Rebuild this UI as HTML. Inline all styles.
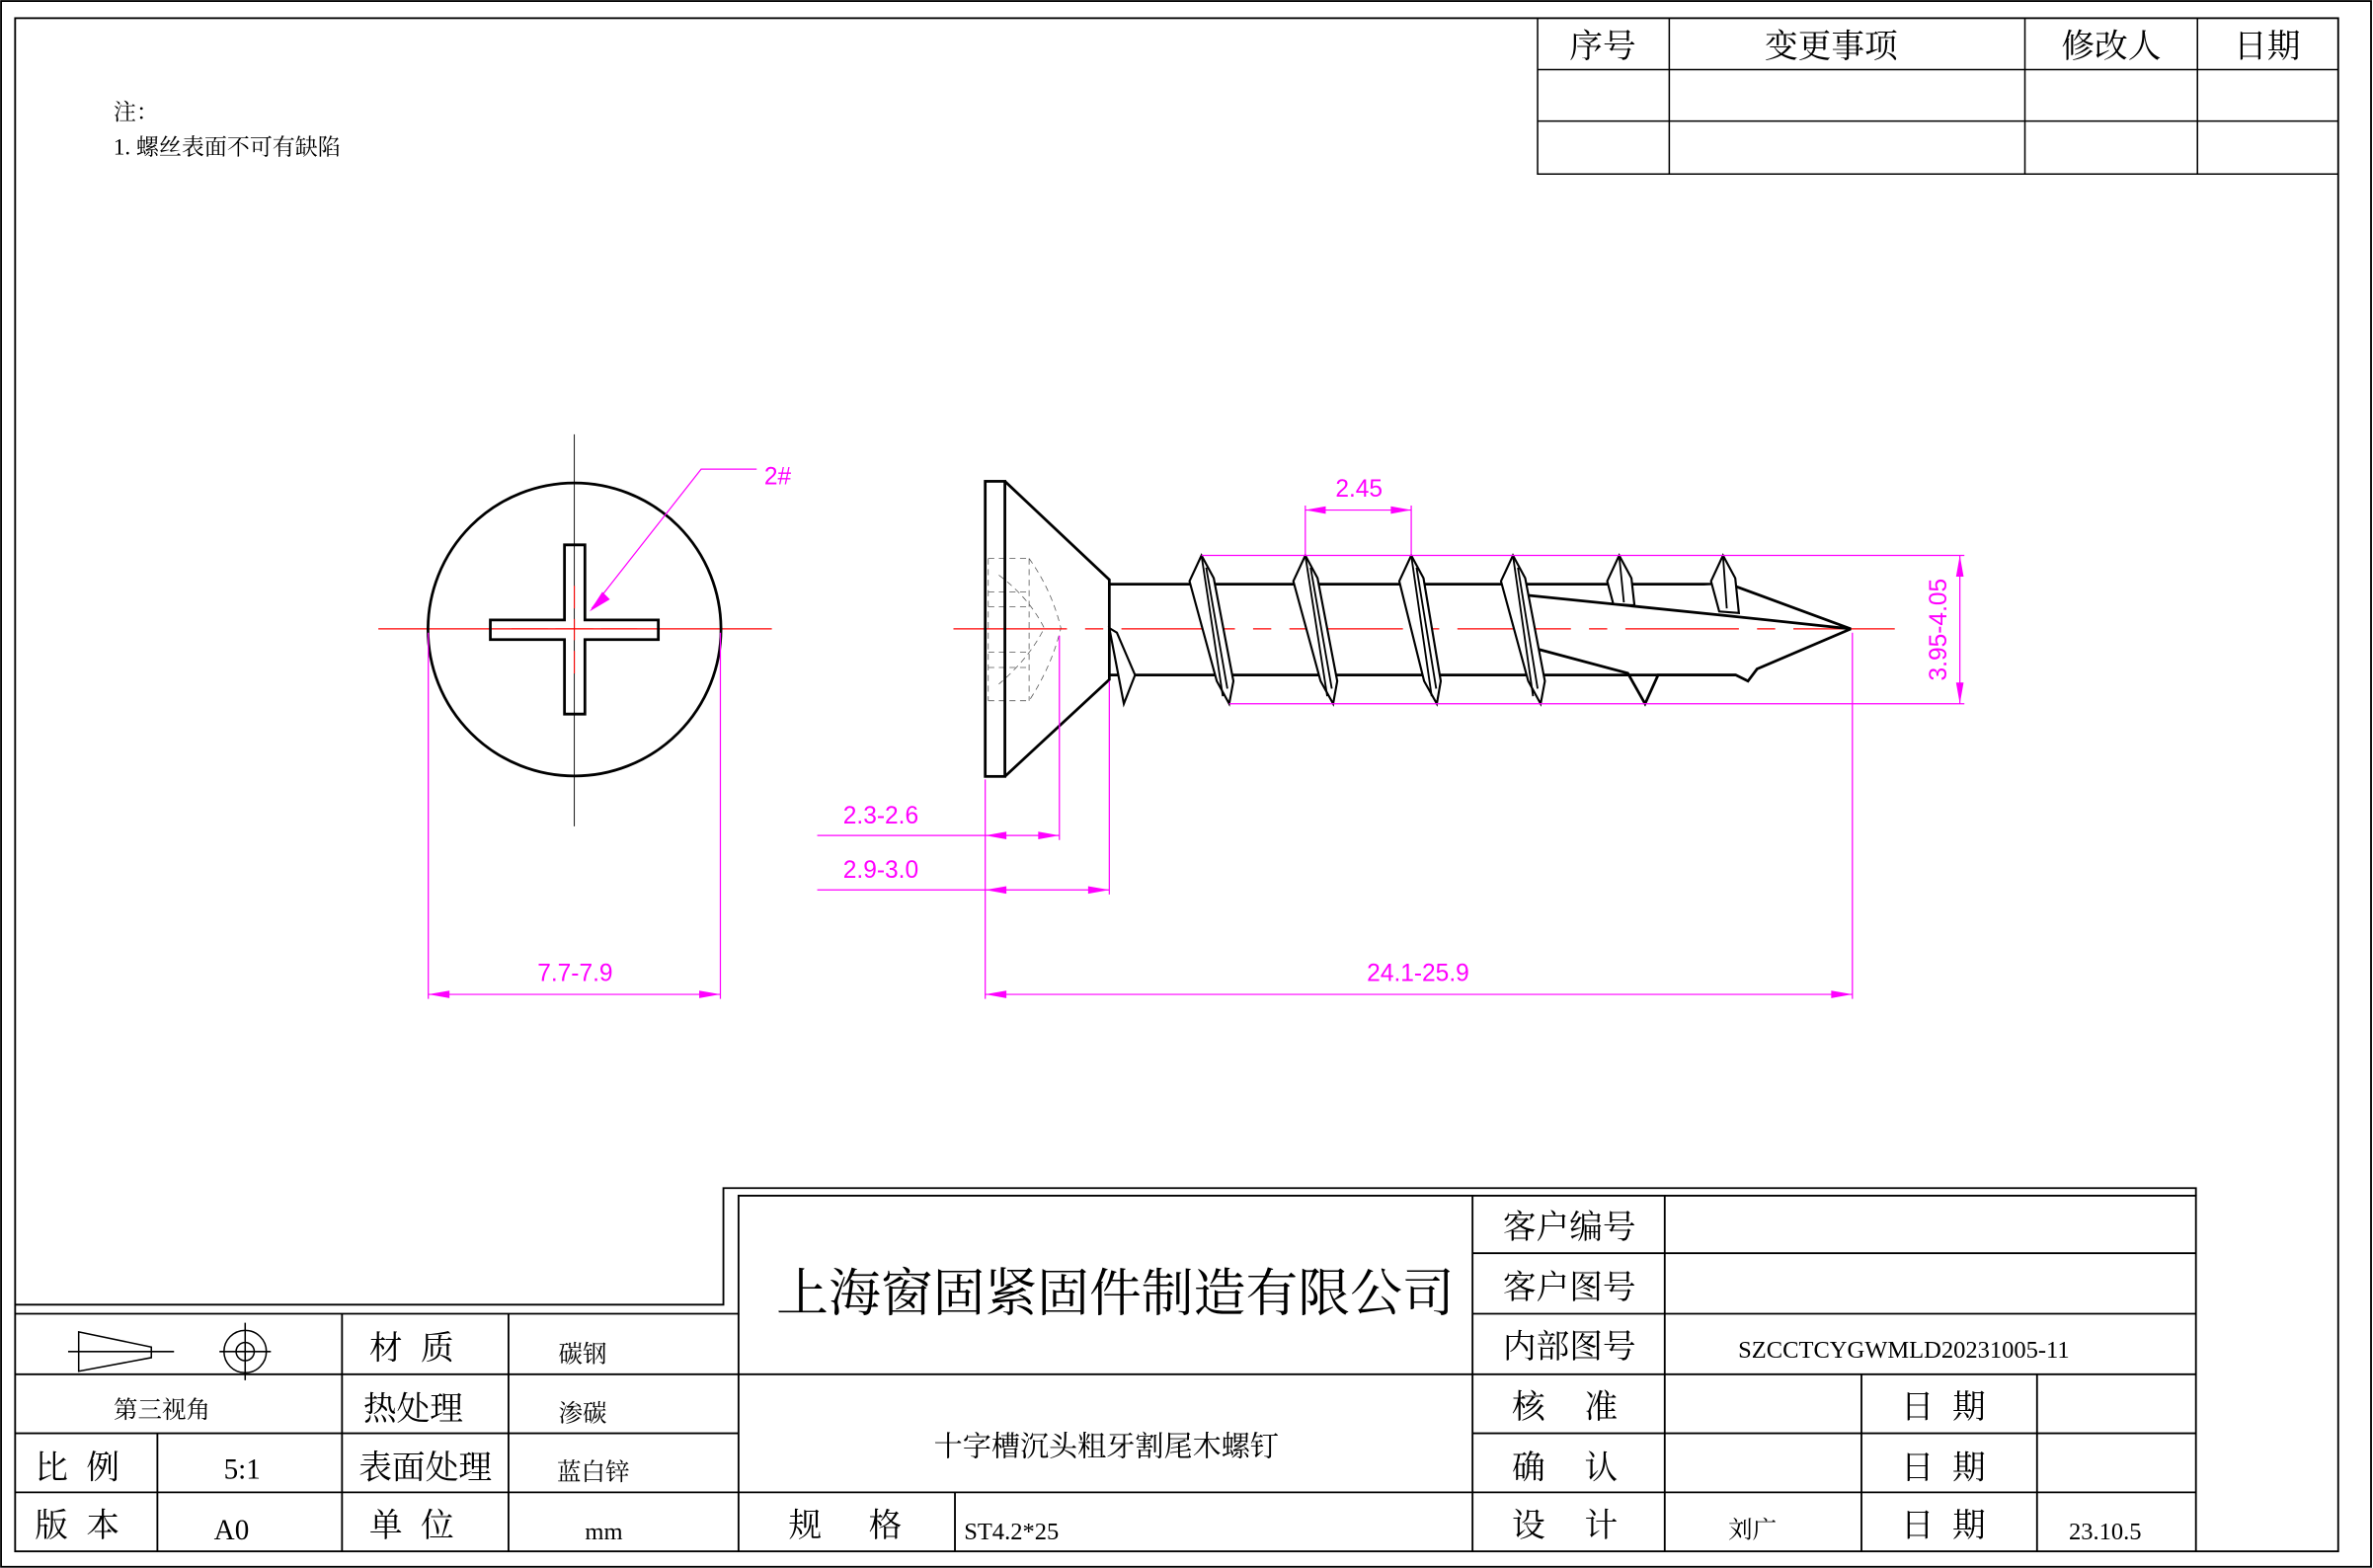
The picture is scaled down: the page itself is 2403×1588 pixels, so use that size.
<!DOCTYPE html>
<html><head><meta charset="utf-8">
<style>
html,body{margin:0;padding:0;background:#fff;}
svg{display:block;}
text{font-family:"Liberation Serif","Noto Serif CJK SC","Noto Sans CJK SC",serif;fill:#000;}
.m{font-family:"Liberation Sans",sans-serif;fill:#f0f;font-size:16px;}
</style></head>
<body>
<svg width="2403" height="1588" viewBox="0 0 1568 1036" preserveAspectRatio="none" xmlns="http://www.w3.org/2000/svg">
<rect x="0" y="0" width="1568" height="1036" fill="#fff"/>
<g fill="none" stroke="#000">
<rect x="0.7" y="0.7" width="1566" height="1034.5" stroke-width="1.2"/>
<rect x="10" y="12" width="1535" height="1013" stroke-width="1.2"/>
<g stroke-width="1">
<path d="M1016 12V115H1545M1016 46H1545M1016 80H1545M1103 12V115M1338 12V115M1452 12V115"/>
</g>
<g stroke-width="1.2">
<path d="M10 862H478V785H1451V790"/>
<path d="M10 868H488V790H1451V1025"/>
<path d="M10 908H488M10 947H488M973 947H1451M10 986H1451M488 908H1451M973 828H1451M973 868H1451"/>
<path d="M226 868V1025M336 868V1025M104 947V1025M488 868V1025M631 986V1025M973 790V1025M1100 790V1025M1230 908V1025M1346 908V1025"/>
</g>
<g stroke-width="1">
<path d="M52 880L100 890V897L52 906Z"/>
<path d="M45 893H115"/>
<circle cx="162" cy="893" r="14"/>
<circle cx="162" cy="893" r="6"/>
<path d="M145 893H179M162 874V912"/>
</g>
</g>

<g font-size="22" text-anchor="middle">
<text x="1059" y="38">序号</text>
<text x="1210" y="38">变更事项</text>
<text x="1395" y="38">修改人</text>
<text x="1498" y="38">日期</text>
</g>
<text x="75" y="79" font-size="15">注：</text>
<text x="75" y="102" font-size="15">1. 螺丝表面不可有缺陷</text>

<text x="737" y="866" font-size="34" text-anchor="middle" textLength="448" lengthAdjust="spacingAndGlyphs">上海窗固紧固件制造有限公司</text>
<text x="731" y="962" font-size="19" text-anchor="middle">十字槽沉头粗牙割尾木螺钉</text>
<g font-size="22" text-anchor="middle">
<text x="255" y="898">材</text><text x="289" y="898">质</text>
<text x="273" y="938">热处理</text>
<text x="281" y="977">表面处理</text>
<text x="255" y="1015">单</text><text x="289" y="1015">位</text>
<text x="34" y="977">比</text><text x="68" y="977">例</text>
<text x="34" y="1015">版</text><text x="68" y="1015">本</text>
<text x="1037" y="818">客户编号</text>
<text x="1037" y="858">客户图号</text>
<text x="1037" y="897">内部图号</text>
<text x="1010" y="937">核</text><text x="1058" y="937">准</text>
<text x="1010" y="977">确</text><text x="1058" y="977">认</text>
<text x="1010" y="1015">设</text><text x="1058" y="1015">计</text>
<text x="1267" y="937">日</text><text x="1301" y="937">期</text>
<text x="1267" y="977">日</text><text x="1301" y="977">期</text>
<text x="1267" y="1015">日</text><text x="1301" y="1015">期</text>
<text x="532" y="1015">规</text><text x="585" y="1015">格</text>
</g>
<g font-size="16" text-anchor="middle">
<text x="385" y="900">碳钢</text>
<text x="385" y="939">渗碳</text>
<text x="392" y="978">蓝白锌</text>
<text x="399" y="1017">mm</text>
<text x="107" y="937">第三视角</text>
<text x="160" y="977" font-size="19">5:1</text>
<text x="153" y="1017" font-size="19">A0</text>
<text x="1258" y="897">SZCCTCYGWMLD20231005-11</text>
<text x="1158" y="1016">刘广</text>
<text x="1391" y="1017">23.10.5</text>
</g>
<text x="637" y="1017" font-size="16">ST4.2*25</text>

<path d="M250 415.5H510" stroke="#f00" stroke-width="0.8"/>
<path d="M379.5 287V546" stroke="#000" stroke-width="0.6"/>
<circle cx="379.6" cy="415.9" r="96.8" fill="none" stroke="#000" stroke-width="1.8"/>
<path d="M373 360H386.5V409.6H435V422.6H386.5V471.8H373V422.6H324V409.6H373Z" fill="none" stroke="#000" stroke-width="1.8"/>
<path d="M379.5 387V402M379.5 409V423M379.5 430V445M338 415.5H362M367 415.5H392M397 415.5H421" stroke="#f00" stroke-width="0.7"/>
<path d="M391 402L463.3 310H500" stroke="#f0f" stroke-width="0.8" fill="none"/>
<path d="M389.6 404L398 391L403 396Z" fill="#f0f"/>
<text x="505" y="320" class="m" font-size="22">2#</text>
<g stroke="#f0f" stroke-width="0.8" fill="none">
<path d="M283 418V660M476 418V660M283 657H476"/>
</g>
<path d="M283 657L297 654.5V659.5ZM476 657L462 654.5V659.5Z" fill="#f0f"/>
<text x="380" y="648" class="m" text-anchor="middle">7.7-7.9</text>

<g stroke="#555" stroke-width="0.5" fill="none" stroke-dasharray="4 3">
<path d="M653 369V463M680 369V463M653 369H680M653 463H680M653 391H680M653 401H680M653 431H680M653 441H680"/>
<path d="M680 369Q695 390 701 415Q695 440 680 463"/>
<path d="M660 380Q680 395 690 415Q680 435 660 452"/>
</g>
<path d="M630 415.5H1252" stroke="#f00" stroke-width="0.8" stroke-dasharray="75 12 12 12"/>
<g stroke="#000" stroke-width="1.8" fill="none">
<rect x="651" y="318" width="13" height="195"/>
<path d="M664 318L733 383V449L664 513"/>
<path d="M733 386H1147M733 446H1147"/>
</g>
<g stroke="#000" stroke-width="1.8" fill="#fff">
<path d="M1143 386L1223 415.5L1143 407L1006 393"/>
<path d="M1009 427L1075.6 444.8L1087 465L1095.6 446H1147L1155 450L1161 442L1223 415.5" fill="none"/>
</g>
<g stroke="#000" stroke-width="1.4" fill="#fff">
<path d="M733 415L742.6 465L750 446L738 418Z"/>
<path d="M793.9 367L802 382L815 450L812.2 465L804 450L786 384Z"/>
<path d="M862.5 367L870.6 382L883.6 450L880.9 465L872.6 450L854.6 384Z"/>
<path d="M932.5 367L940.6 382L952 450L949.4 465L941 450L924.6 384Z"/>
<path d="M999.7 367L1007.8 382L1020.8 450L1018 465L1009.8 450L991.8 384Z"/>
<path d="M1069.9 367L1078 382L1080 400L1066 399L1062 384Z"/>
<path d="M1138.5 367L1146.6 382L1149 405L1136 404L1130.6 384Z"/>
</g>
<g stroke="#000" stroke-width="1.2">
<path d="M793.9 367L808 460M862.5 367L877 460M932.5 367L946 460M999.7 367L1013 460M797 375L811 455M866 375L880 455M936 375L949 455M1003 375L1016 455"/>
<path d="M1069.9 367L1073 398M1138.5 367L1141 402"/>
</g>
<g stroke="#f0f" stroke-width="0.8" fill="none">
<path d="M862.5 367V334M932.5 367V334M862.5 337H932.5"/>
<path d="M793.9 367H1298M812.2 465H1298M1295 367V465"/>
<path d="M540 552H700M700 420V555M651 515V660M540 588H733M733 450V591M651 657H1224M1224 418V660"/>
</g>
<g fill="#f0f">
<path d="M862.5 337L876 334.5V339.5ZM932.5 337L919 334.5V339.5Z"/>
<path d="M1295 367L1292.5 381H1297.5ZM1295 465L1292.5 451H1297.5Z"/>
<path d="M651 552L665 549.5V554.5ZM700 552L686 549.5V554.5Z"/>
<path d="M651 588L665 585.5V590.5ZM733 588L719 585.5V590.5Z"/>
<path d="M651 657L665 654.5V659.5ZM1224 657L1210 654.5V659.5Z"/>
</g>
<text x="898" y="328" class="m" text-anchor="middle">2.45</text>
<text x="0" y="0" class="m" text-anchor="middle" transform="translate(1286 416) rotate(-90)">3.95-4.05</text>
<text x="582" y="544" class="m" text-anchor="middle">2.3-2.6</text>
<text x="582" y="580" class="m" text-anchor="middle">2.9-3.0</text>
<text x="937" y="648" class="m" text-anchor="middle">24.1-25.9</text>
</svg>
</body></html>
